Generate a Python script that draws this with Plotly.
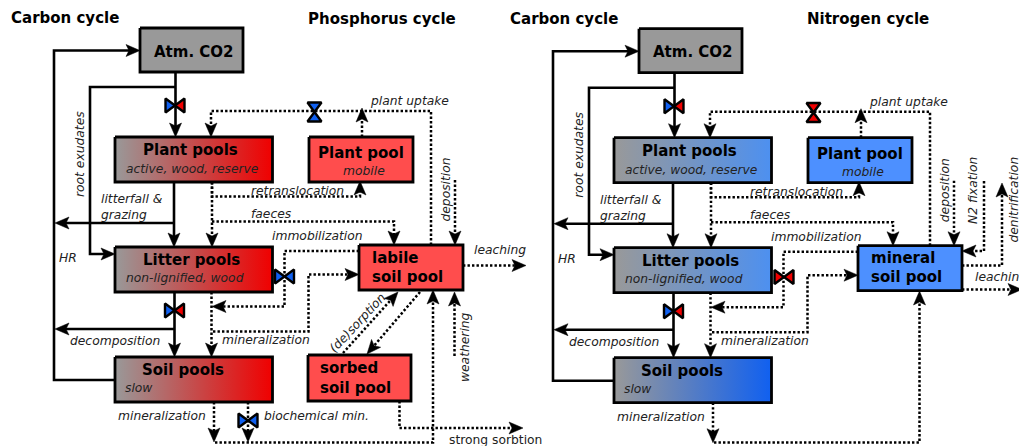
# plot.py: carbon / phosphorus / nitrogen pool diagram, drawn in pixel-like axis units.

import plotly.graph_objects as go

PANEL_SHIFT = (499, 0.7)  # right panel repeats the left one

GREY = "#999999"
RED = "#f00000"
BLUE = "#1060f0"
RED_FLAT = "#ff4d4d"
BLUE_FLAT = "#4d90ff"
BLUE_MID = "#4d90f0"
INK = "#222222"
FONT = "DejaVu Sans"

# boxes: (x0, y0, x1, y1)
ATM_BOX = (140, 28, 243, 72)
PLANT_BOX = (115, 137, 272.5, 182)
LITTER_BOX = (115, 247, 272.5, 292)
SOIL_BOX = (115, 357, 272.5, 402)
MOBILE_BOX = (309, 137, 413, 182)
LABILE_BOX = (359, 245, 463, 290)
SORBED_BOX = (308, 355, 411, 401)

# flows: lists of (x, y), arrowhead at the last point
SOLID_FLOWS = [
    [(175.5, 72), (175.5, 137)],
    [(175.5, 87), (90, 87), (90, 254), (115, 254)],
    [(115, 380), (54, 380), (54, 50.5), (140, 50.5)],
    [(174, 182), (174, 247)],
    [(174, 223), (55, 223)],
    [(174.5, 292), (174.5, 357)],
    [(174.5, 329), (55, 329)],
]
DOTTED_FLOWS = [
    [(431, 245), (431, 111), (211, 111), (211, 137)],
    [(362, 137), (362, 108)],
    [(212, 182), (212, 196.5), (360, 196.5), (360, 181)],
    [(212, 221.5), (394, 221.5), (394, 245)],
    [(212, 182), (212, 247)],
    [(211.5, 292), (211.5, 357)],
    [(359, 251), (284.5, 251), (284.5, 306.5), (212, 306.5)],
    [(213, 331.5), (308.5, 331.5), (308.5, 274.5), (359, 274.5)],
    [(455, 180), (455, 245)],
    [(214, 402), (214, 442)],
]
P_DOTTED_FLOWS = [
    [(463, 265.5), (526, 265.5)],
    [(343, 353), (398, 292)],
    [(420, 292), (367, 354)],
    [(454.5, 356), (454.5, 292)],
    [(215, 442.5), (433, 442.5), (433, 290)],
    [(248, 402), (248, 442)],
    [(399.5, 401), (399.5, 428), (523, 428)],
]
N_DOTTED_FLOWS = [  # already in page units
    [(984, 181), (984, 251), (962, 251)],
    [(962, 265.5), (1002, 265.5), (1002, 183)],
    [(962, 289.5), (1022, 289.5)],
    [(714, 442.5), (919.5, 442.5), (919.5, 291)],
]

# valves: (x, y, "h" or "v", first colour, second colour)
COMMON_VALVES = [
    (175, 105.5, "h", "#1060f0", "#f00000"),
    (174.5, 310.5, "h", "#1060f0", "#f00000"),
]
P_VALVES = [
    (314.5, 112, "v", "#1060f0", "#1060f0"),
    (284.5, 276.5, "h", "#1060f0", "#1060f0"),
    (248, 420.5, "h", "#1060f0", "#1060f0"),
]
N_VALVES = [
    (813.5, 112.5, "v", "#f00000", "#f00000"),
    (784, 277, "h", "#f00000", "#f00000"),
]

# texts: (text, x_left, y_middle)
TITLES = [("Carbon cycle", 10, 18)]
P_TITLES = [("Phosphorus cycle", 306.5, 19)]
N_TITLES = [("Nitrogen cycle", 805.5, 19)]
BOX_NAMES = [
    ("Atm. CO2", 153, 51.5),
    ("Plant pools", 142, 150),
    ("Litter pools", 142, 260),
    ("Soil pools", 141, 370),
    ("Plant pool", 317, 153),
]
P_BOX_NAMES = [
    ("labile", 371, 258),
    ("soil pool", 371, 277),
    ("sorbed", 319, 368),
    ("soil pool", 319, 388),
]
N_BOX_NAMES = [
    ("mineral", 870, 258),
    ("soil pool", 870, 277),
]
LABELS = [
    ("active, wood, reserve", 124.5, 169),
    ("non-lignified, wood", 124.5, 278),
    ("slow", 124, 388),
    ("mobile", 342, 171),
    ("plant uptake", 369, 101),
    ("litterfall &", 99.5, 199),
    ("grazing", 99.5, 215),
    ("retranslocation", 249.5, 191),
    ("faeces", 249.5, 214),
    ("immobilization", 271, 236),
    ("HR", 58, 258),
    ("mineralization", 221, 340),
    ("decomposition", 68.5, 341),
    ("mineralization", 116.5, 416),
]
P_LABELS = [
    ("leaching", 472.5, 250),
    ("biochemical min.", 263, 416),
]
N_LABELS = [("leaching", 973.5, 277)]
# rotated: (text, x_centre, y_centre, angle)
ROTATED = [
    ("root exudates", 80, 154, -90),
    ("deposition", 445.5, 190, -90),
]
P_ROTATED = [
    ("(de)sorption", 357.5, 323, -47),
    ("weathering", 465, 347, -90),
]
N_ROTATED = [
    ("N2 fixation", 973, 191, -90),
    ("denitrification", 1013.5, 200, -90),
]
PLAIN_NOTE = ("strong sorbtion", 447.5, 440)


def shift_flow(flow):
    return [(x + PANEL_SHIFT[0], y + PANEL_SHIFT[1]) for x, y in flow]


def shift_box(box):
    dx, dy = PANEL_SHIFT
    return (box[0] + dx, box[1] + dy, box[2] + dx, box[3] + dy)


def shift_text(item):
    return (item[0], item[1] + PANEL_SHIFT[0], item[2] + PANEL_SHIFT[1]) + tuple(item[3:])


def arrow_head(tail, tip, length=14, half_width=6, notch=3):
    """Outline of a notched head, as a list of points closed on the tip."""
    dx, dy = tip[0] - tail[0], tip[1] - tail[1]
    norm = (dx * dx + dy * dy) ** 0.5
    ux, uy = dx / norm, dy / norm
    bx, by = tip[0] - ux * length, tip[1] - uy * length
    nx, ny = tip[0] - ux * (length - notch), tip[1] - uy * (length - notch)
    return [
        tip,
        (bx - uy * half_width, by + ux * half_width),
        (nx, ny),
        (bx + uy * half_width, by - ux * half_width),
        tip,
    ]


def add_flows(fig, flows, dash, width):
    """Draw flow lines as one trace; heads are returned for a later filled trace."""
    xs, ys, hx, hy = [], [], [], []
    for flow in flows:
        tail, tip = flow[-2], flow[-1]
        dx, dy = tip[0] - tail[0], tip[1] - tail[1]
        norm = (dx * dx + dy * dy) ** 0.5
        end = (tip[0] - dx / norm * 8, tip[1] - dy / norm * 8)
        for x, y in flow[:-1] + [end]:
            xs.append(x)
            ys.append(y)
        xs.append(None)
        ys.append(None)
        for x, y in arrow_head(tail, tip):
            hx.append(x)
            hy.append(y)
        hx.append(None)
        hy.append(None)
    fig.add_trace(go.Scatter(
        x=xs, y=ys, mode="lines", hoverinfo="skip",
        line=dict(color="black", width=width, dash=dash),
    ))
    return hx, hy


def add_box(fig, box, left, right):
    x0, y0, x1, y1 = box
    trace = dict(
        x=[x0, x1, x1, x0, x0], y=[y0, y0, y1, y1, y0],
        mode="lines", fill="toself", hoverinfo="skip",
        line=dict(color="black", width=2.8),
    )
    if left == right:
        trace["fillcolor"] = left
    else:
        trace["fillgradient"] = dict(type="horizontal", colorscale=[[0, left], [1, right]])
    fig.add_trace(go.Scatter(**trace))


def add_valve(fig, valve):
    x, y, kind, first, second = valve
    w, h = (9.5, 7) if kind == "h" else (7, 9.5)
    if kind == "h":
        parts = [([x, x - w, x - w, x], [y, y - h, y + h, y], first),
                 ([x, x + w, x + w, x], [y, y - h, y + h, y], second)]
    else:
        parts = [([x, x - w, x + w, x], [y, y - h, y - h, y], first),
                 ([x, x - w, x + w, x], [y, y + h, y + h, y], second)]
    for px, py, colour in parts:
        fig.add_trace(go.Scatter(
            x=px, y=py, mode="lines", fill="toself", fillcolor=colour, hoverinfo="skip",
            line=dict(color="black", width=2.4),
        ))


def add_text(fig, text, x, y, size, color="black", angle=0, anchor="left"):
    fig.add_annotation(
        x=x, y=y, text=text, showarrow=False, textangle=angle, xanchor=anchor, yanchor="middle",
        font=dict(family=FONT, size=size, color=color), borderpad=0,
    )


fig = go.Figure()

# lines first so the boxes sit on their ends
heads = []
solid = SOLID_FLOWS + [shift_flow(f) for f in SOLID_FLOWS]
dotted = DOTTED_FLOWS + P_DOTTED_FLOWS + [shift_flow(f) for f in DOTTED_FLOWS] + N_DOTTED_FLOWS
heads.append(add_flows(fig, solid, "solid", 2.6))
heads.append(add_flows(fig, dotted, "2.4px,2.1px", 2.5))

for box in [ATM_BOX, shift_box(ATM_BOX)]:
    add_box(fig, box, GREY, GREY)
for box, end in [(PLANT_BOX, RED), (LITTER_BOX, RED), (SOIL_BOX, RED)]:
    add_box(fig, box, GREY, end)
for box, end in [(PLANT_BOX, BLUE_MID), (LITTER_BOX, BLUE_MID), (SOIL_BOX, BLUE)]:
    add_box(fig, shift_box(box), GREY, end)
add_box(fig, MOBILE_BOX, RED_FLAT, RED_FLAT)
add_box(fig, LABILE_BOX, RED_FLAT, RED_FLAT)
add_box(fig, SORBED_BOX, RED_FLAT, RED_FLAT)
add_box(fig, shift_box(MOBILE_BOX), BLUE_FLAT, BLUE_FLAT)
add_box(fig, shift_box(LABILE_BOX), BLUE_FLAT, BLUE_FLAT)

for hx, hy in heads:
    fig.add_trace(go.Scatter(
        x=hx, y=hy, mode="lines", fill="toself", fillcolor="black", hoverinfo="skip",
        line=dict(color="black", width=0.5),
    ))

valves = COMMON_VALVES + P_VALVES + N_VALVES
valves += [(v[0] + PANEL_SHIFT[0], v[1] + PANEL_SHIFT[1]) + v[2:] for v in COMMON_VALVES]
for valve in valves:
    add_valve(fig, valve)

for text, x, y in TITLES + [shift_text(t) for t in TITLES] + P_TITLES + N_TITLES:
    add_text(fig, f"<b>{text}</b>", x, y, 15)
for text, x, y in BOX_NAMES + [shift_text(t) for t in BOX_NAMES] + P_BOX_NAMES + N_BOX_NAMES:
    add_text(fig, f"<b>{text}</b>", x, y, 15)
for text, x, y in LABELS + [shift_text(t) for t in LABELS] + P_LABELS + N_LABELS:
    add_text(fig, f"<i>{text}</i>", x, y, 12.3, INK)
for text, x, y, angle in ROTATED + [shift_text(t) for t in ROTATED] + P_ROTATED + N_ROTATED:
    add_text(fig, f"<i>{text}</i>", x, y, 12.3, INK, angle=angle, anchor="center")
add_text(fig, PLAIN_NOTE[0], PLAIN_NOTE[1], PLAIN_NOTE[2], 12.3, INK)

fig.update_layout(
    width=1019,
    height=446,
    margin=dict(l=0, r=0, t=0, b=0),
    paper_bgcolor="white",
    plot_bgcolor="white",
    showlegend=False,
    hovermode=False,
)
fig.update_xaxes(visible=False, range=[0, 1019], fixedrange=True)
fig.update_yaxes(visible=False, range=[446, 0], fixedrange=True)

fig.write_html(
    "out.html",
    config=dict(displayModeBar=False),
    post_script="document.body.style.margin='0';",
)
